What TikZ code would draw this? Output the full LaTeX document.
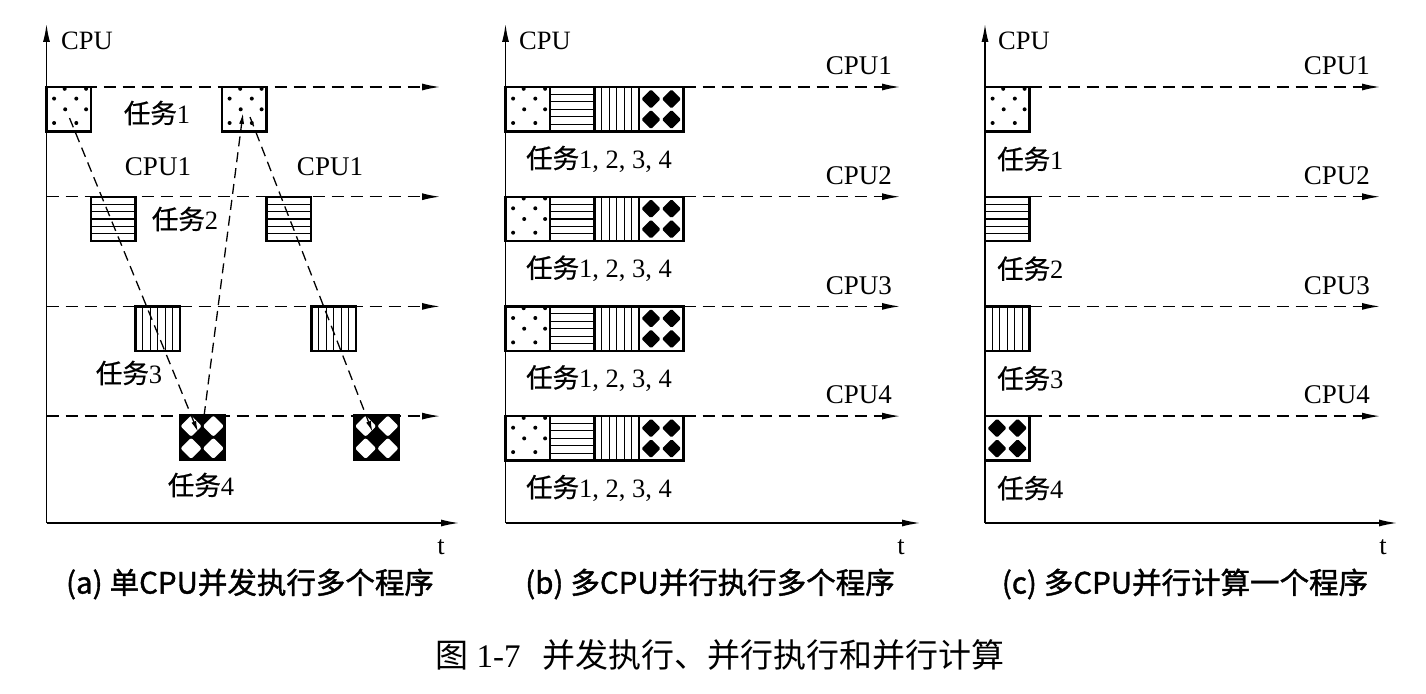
\documentclass[tikz,border=0pt]{standalone}
\usepackage{fontspec}
\setmainfont{Liberation Serif}
\newfontfamily\cjk{Noto Sans CJK SC}
\newfontfamily\cjkm[FakeBold=0.7]{Noto Sans CJK SC}
\newfontfamily\cjkb[FakeBold=1.3]{Noto Sans CJK SC}
\usetikzlibrary{arrows.meta,calc}
\newcommand\pp[2]{($(path picture bounding box.north west)+(#1,#2)$)}
\tikzset{
  taskbox/.style={draw, line width=2.4bp, fill=white, minimum width=44.5bp, minimum height=44.5bp,
    inner sep=0pt, outer sep=0pt, anchor=north west},
  dotbox/.style={taskbox, path picture={
      \foreach \px/\py in {7.6/11.6,29.8/11.6,18.7/22.3,39.6/22.3,7.6/36,29.8/36,18.2/1.8,39.6/1.8}
        \fill[black] \pp{\px}{\py} circle[radius=2bp];
    }},
  hbox/.style={taskbox, path picture={
      \foreach \k in {1,...,5} \draw[black,line width=1.1bp] \pp{0}{\k*7.417} -- \pp{44.5}{\k*7.417};
    }},
  vbox/.style={taskbox, path picture={
      \foreach \k in {1,...,5} \draw[black,line width=1.1bp] \pp{\k*7.417}{0} -- \pp{\k*7.417}{44.5};
    }},
  dbox/.style={taskbox, path picture={
      \foreach \px/\py in {12/12,32.5/12,12/32.5,32.5/32.5}
        \fill[black,rounded corners=1.5bp] \pp{\px-9.6}{\py} -- \pp{\px}{\py-9.6} -- \pp{\px+9.6}{\py} -- \pp{\px}{\py+9.6} -- cycle;
    }},
  ibox/.style={taskbox, fill=black, path picture={
      \foreach \px/\py in {11.1/11.1,33.4/11.1,11.1/33.4,33.4/33.4}
        \fill[white,rounded corners=2bp] \pp{\px-10.6}{\py} -- \pp{\px}{\py-10.6} -- \pp{\px+10.6}{\py} -- \pp{\px}{\py+10.6} -- cycle;
    }},
  axisline/.style={line width=1.4bp, -{Latex[length=18bp,width=7bp]}},
  rowline/.style={line width=1.4bp, dash pattern=on 12bp off 7bp, -{Latex[length=18bp,width=7bp]}},
  linkline/.style={line width=1.3bp, dash pattern=on 10bp off 6bp, -{Latex[length=11bp,width=5bp]}},
  lbl/.style={inner sep=0pt, font=\fontsize{26.5bp}{30bp}\selectfont},
  cpul/.style={inner sep=0pt, font=\fontsize{27bp}{30bp}\selectfont},
  captext/.style={inner sep=0pt, font=\fontsize{29.5bp}{33bp}\cjkb},
  figcap/.style={inner sep=0pt, font=\fontsize{33bp}{36bp}\selectfont},
}
\begin{document}
\begin{tikzpicture}[x=1bp,y=-1bp]
\useasboundingbox[fill=white] (0,0) rectangle (1426,694);
% ---------- panel (a)
\coordinate (aO) at (46.5,523);
\coordinate (aY) at (46.5,24);
\coordinate (aX) at (459,523);
\draw[axisline] (aO) -- (aY);
\draw[axisline] (aO) -- (aX);
\node[lbl, anchor=west] (aCPU) at (61,41) {CPU};
\node[lbl] (at) at (441,547) {t};
\foreach \r/\yy in {1/87,2/196.7,3/306.4,4/416.1}{
  \coordinate (aS\r) at (46.5,\yy);
  \coordinate (aE\r) at (440,\yy);
  \draw[rowline] (aS\r) -- (aE\r);
}
\node[dotbox] (a1) at (46.5,87) {};
\node[hbox] (a2) at (91,196.7) {};
\node[vbox] (a3) at (135.5,306.4) {};
\node[ibox] (a4) at (180,415) {};
\node[dotbox] (a5) at (222,87) {};
\node[hbox] (a6) at (266.5,196.7) {};
\node[vbox] (a7) at (311.5,306.4) {};
\node[ibox] (a8) at (354.5,415) {};
\draw[linkline] ($(a1.north west)+(23,31)$) -- ($(a4.north west)+(18,17)$);
\draw[linkline] ($(a4.north west)+(22,17)$) -- ($(a5.north west)+(21,26)$);
\draw[linkline] ($(a5.north west)+(28,30)$) -- ($(a8.north west)+(18,17)$);
\node[lbl] (aL1) at (157,113) {{\cjkm 任务}1};
\node[cpul] (aC1) at (158,167) {CPU1};
\node[cpul] (aC2) at (330,167) {CPU1};
\node[lbl] (aL2) at (185,219) {{\cjkm 任务}2};
\node[lbl] (aL3) at (129,373) {{\cjkm 任务}3};
\node[lbl] (aL4) at (201,485) {{\cjkm 任务}4};
\node[captext] (acap) at (250,584) {(a)\hspace{7bp}单CPU并发执行多个程序};
% ---------- panel (b)
\coordinate (bO) at (505.5,523);
\coordinate (bY) at (505.5,24);
\coordinate (bX) at (920,523);
\draw[axisline] (bO) -- (bY);
\draw[axisline] (bO) -- (bX);
\node[lbl, anchor=west] (bCPU) at (519,41) {CPU};
\node[lbl] (bt) at (901,547) {t};
\foreach \r/\yy in {1/87,2/196.7,3/306.4,4/416.1}{
  \node[dotbox] (b\r a) at (505.5,\yy) {};
  \node[hbox] (b\r b) at (550,\yy) {};
  \node[vbox] (b\r c) at (594.5,\yy) {};
  \node[dbox] (b\r d) at (639,\yy) {};
  \coordinate (bE\r) at (900,\yy);
  \draw[rowline] (b\r d.north east) -- (bE\r);
  \node[lbl] (bL\r) at (599,\yy+72) {{\cjkm 任务}1, 2, 3, 4};
  \node[cpul, anchor=east] (bC\r) at (892,\yy-21) {CPU\r};
}
\node[captext] (bcap) at (710,584) {(b)\hspace{7bp}多CPU并行执行多个程序};
% ---------- panel (c)
\coordinate (cO) at (985,523);
\coordinate (cY) at (985,24);
\coordinate (cX) at (1397,523);
\draw[axisline] (cO) -- (cY);
\draw[axisline] (cO) -- (cX);
\node[lbl, anchor=west] (cCPU) at (998,41) {CPU};
\node[lbl] (ct) at (1383,547) {t};
\foreach \r/\yy/\st in {1/87/dotbox,2/196.7/hbox,3/306.4/vbox,4/416.1/dbox}{
  \node[\st] (c\r) at (985,\yy) {};
  \coordinate (cE\r) at (1380,\yy);
  \draw[rowline] (c\r.north east) -- (cE\r);
  \node[lbl, anchor=west] (cL\r) at (997,\yy+72) {{\cjkm 任务}\r};
  \node[cpul, anchor=east] (cC\r) at (1370,\yy-21) {CPU\r};
}
\node[captext] (ccap) at (1185,584) {(c)\hspace{7bp}多CPU并行计算一个程序};
% ---------- figure caption
\node[figcap] (fig) at (720,655) {{\cjk 图} 1-7\hspace{22bp}{\cjk 并发执行、并行执行和并行计算}};
\end{tikzpicture}
\end{document}
